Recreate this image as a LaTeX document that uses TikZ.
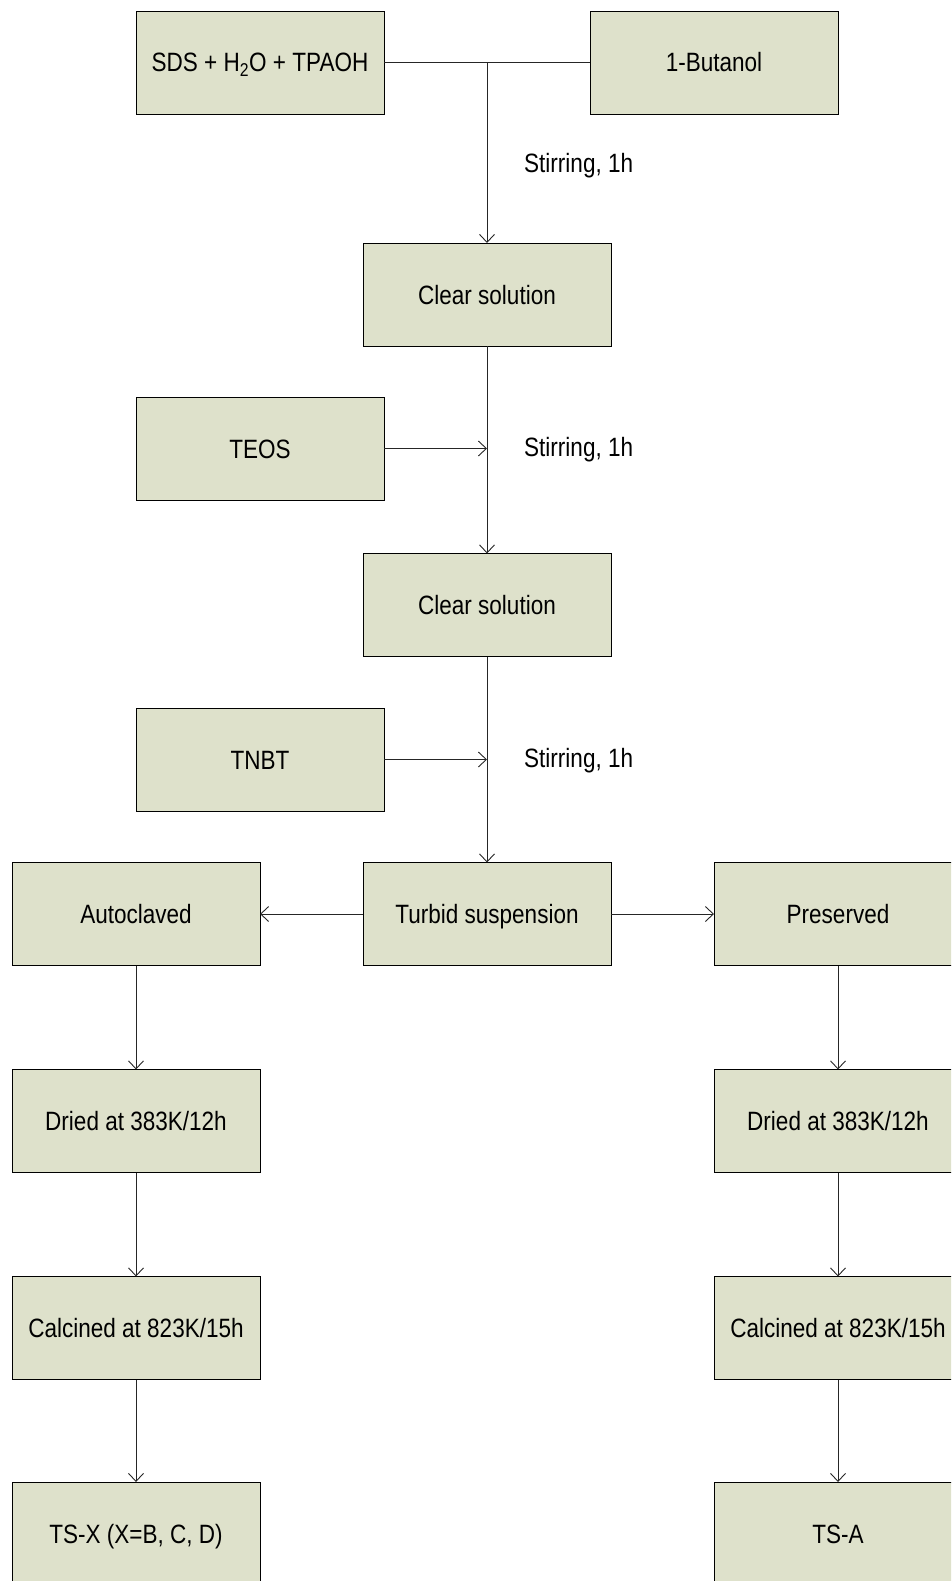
\documentclass[tikz,border=0pt]{standalone}
\usepackage{fontspec}
\setmainfont{Liberation Sans}[FakeStretch=0.85]
\usetikzlibrary{arrows.meta}
\definecolor{boxfill}{HTML}{DEE1CB}
\tikzset{
  procbox/.style={draw=black, line width=0.9pt, fill=boxfill, minimum width=248pt, minimum height=103pt, inner sep=0pt, outer sep=0pt, text height=20pt, text depth=1pt, font=\fontsize{26.5}{29}\selectfont},
  conn/.style={draw=black!85, line width=0.9pt},
  arr/.style={conn, -{Straight Barb[length=8pt,width=15pt,line width=0.9pt]}},
  lbl/.style={anchor=west, inner sep=0pt, text height=20pt, text depth=1pt, font=\fontsize{26.5}{29}\selectfont}
}
\begin{document}
\begin{tikzpicture}[x=1pt,y=-1pt]
\useasboundingbox (0,0) rectangle (951,1581);
\clip (0,0) rectangle (951,1581);
\fill[white] (0,0) rectangle (951,1581);
\node[procbox] (sds) at (260,62.5) {SDS + H\textsubscript{2}O + TPAOH};
\node[procbox] (but) at (714,62.5) {1-Butanol};
\node[procbox] (cs1) at (487,294.5) {Clear solution};
\node[procbox] (teos) at (260,448.5) {TEOS};
\node[procbox] (cs2) at (487,605) {Clear solution};
\node[procbox] (tnbt) at (260,759.5) {TNBT};
\node[procbox] (tur) at (487,914) {Turbid suspension};
\node[procbox] (auto) at (136,914) {Autoclaved};
\node[procbox] (pres) at (838,914) {Preserved};
\node[procbox] (dry1) at (136,1121) {Dried at 383K/12h};
\node[procbox] (dry2) at (838,1121) {Dried at 383K/12h};
\node[procbox] (cal1) at (136,1328) {Calcined at 823K/15h};
\node[procbox] (cal2) at (838,1328) {Calcined at 823K/15h};
\node[procbox] (ts1) at (136,1533.5) {TS-X (X=B, C, D)};
\node[procbox] (ts2) at (838,1533.5) {TS-A};
\coordinate (j1) at (cs1 |- sds);
\coordinate (j2) at (cs1 |- teos);
\coordinate (j3) at (cs1 |- tnbt);
\draw[conn] (sds.east) -- (but.west);
\draw[arr] (j1) -- (cs1.north);
\draw[arr] (cs1.south) -- (cs2.north);
\draw[arr] (teos.east) -- (j2);
\draw[arr] (cs2.south) -- (tur.north);
\draw[arr] (tnbt.east) -- (j3);
\draw[arr] (tur.west) -- (auto.east);
\draw[arr] (tur.east) -- (pres.west);
\draw[arr] (auto.south) -- (dry1.north);
\draw[arr] (dry1.south) -- (cal1.north);
\draw[arr] (cal1.south) -- (ts1.north);
\draw[arr] (pres.south) -- (dry2.north);
\draw[arr] (dry2.south) -- (cal2.north);
\draw[arr] (cal2.south) -- (ts2.north);
\node[lbl] (s1) at (524,163) {Stirring, 1h};
\node[lbl] (s2) at (524,446.5) {Stirring, 1h};
\node[lbl] (s3) at (524,757.5) {Stirring, 1h};
\end{tikzpicture}
\end{document}
